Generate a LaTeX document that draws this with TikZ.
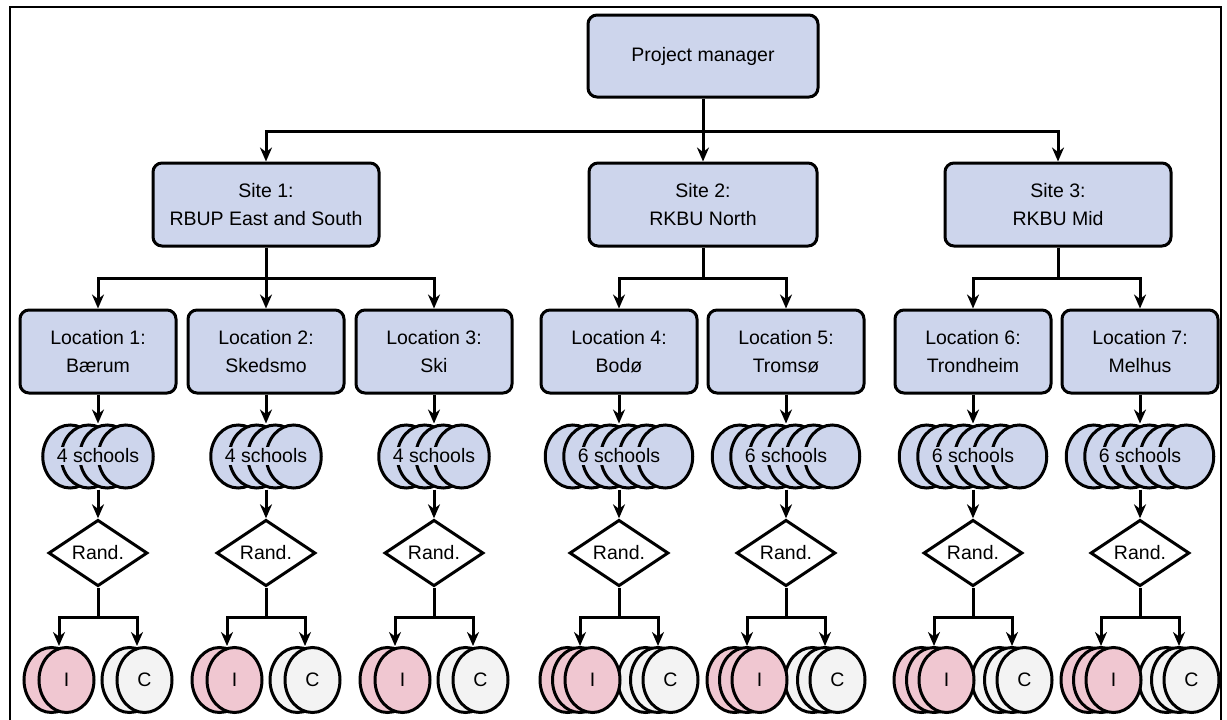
\documentclass[tikz,border=0pt]{standalone}
\usepackage{fontspec}
\setmainfont{Liberation Sans}
\usetikzlibrary{shapes.geometric,arrows.meta}

\begin{document}
\begin{tikzpicture}
		[x=1pt,y=-1pt,line width=3pt,>={Stealth[length=14pt,width=12pt]},
		font=\fontsize{19.5}{28}\selectfont,
		%Styles
		unit box/.style={draw,rounded corners=9pt,fill=boxblue,align=center,inner sep=0pt},
		school/.style={ellipse,draw,fill=boxblue,minimum width=55pt,minimum height=63pt,inner sep=0pt},
		school text/.style={fill=boxblue,inner sep=1.5pt},
		arm I/.style={ellipse,draw,fill=intpink,minimum width=55pt,minimum height=65pt,inner sep=0pt},
		arm C/.style={ellipse,draw,fill=ctrlgray,minimum width=55pt,minimum height=65pt,inner sep=0pt},
		rand box/.style={diamond,draw,fill=white,minimum width=99pt,minimum height=60pt,inner sep=0pt},
		hidden/.style={inner sep=0pt,minimum height=63pt}
		]
		
		%Colors
		\definecolor{boxblue}{RGB}{205,213,236}	%boxes and schools
		\definecolor{intpink}{RGB}{240,199,209}	%intervention arm
		\definecolor{ctrlgray}{RGB}{243,243,243}	%control arm
		
		\useasboundingbox (0,0) rectangle (1227,720);
		\draw[line width=1.5pt] (10,7) rectangle (1221,728);
		
		%The graphic
		\node[unit box,minimum width=230pt,minimum height=82pt] (pm) at (703,56) {Project manager};
		\node[unit box,minimum width=226pt,minimum height=83pt] (site1) at (266,204.5) {Site 1:\\RBUP East and South};
		\node[unit box,minimum width=228pt,minimum height=83pt] (site2) at (703,204.5) {Site 2:\\RKBU North};
		\node[unit box,minimum width=226pt,minimum height=83pt] (site3) at (1058,204.5) {Site 3:\\RKBU Mid};
		
		\coordinate (pmbus) at (703,131);
		\draw (pm) -- (pmbus);
		\draw[->] (pmbus) -| (site1);
		\draw[->] (pmbus) -- (site2);
		\draw[->] (pmbus) -| (site3);
		
		\coordinate (sb1) at (266,278);
		\coordinate (sb2) at (703,278);
		\coordinate (sb3) at (1058,278);
		\draw (site1) -- (sb1);
		\draw (site2) -- (sb2);
		\draw (site3) -- (sb3);
		
		\foreach \i/\cx/\place/\n/\st in {1/98/Bærum/4/1, 2/266/Skedsmo/4/1, 3/434/Ski/4/1,
				4/619/Bodø/6/2, 5/786/Tromsø/6/2, 6/973/Trondheim/6/3, 7/1140/Melhus/6/3}{
			\node[unit box,minimum width=156pt,minimum height=83pt] (loc\i) at (\cx,351.5) {Location \i:\\\place};
			\draw[->] (sb\st) -| (loc\i);
			
			%stack of schools
			\foreach \k in {1,...,\n}
				\node[school] (s\i-\k) at ({\cx+(\k-(\n+1)/2)*18.5},456.5) {};
			\node[hidden,minimum width={55+(\n-1)*18.5}] (sc\i) at (\cx,456.5) {};
			\node[school text] (st\i) at (\cx,456) {\n\ schools};
			\draw[->] (loc\i) -- (sc\i);
			
			\node[rand box] (rd\i) at (\cx,553) {Rand.};
			\draw[->] (sc\i) -- (rd\i);
			\coordinate (rb\i) at (\cx,617);
			\draw (rd\i) -- (rb\i);
			
			%arms
			\pgfmathsetmacro\arms{int(\n/2)}
			\pgfmathsetmacro\gap{\arms==2 ? 15 : 12.5}
			\foreach \j in {1,...,\arms}{
				\node[arm I] (i\i-\j) at ({\cx-39+(\j-(\arms+1)/2)*\gap},680) {\ifnum\j=\arms I\fi};
				\node[arm C] (c\i-\j) at ({\cx+39+(\j-(\arms+1)/2)*\gap},680) {\ifnum\j=\arms C\fi};
			}
			\node[hidden,minimum height=65pt,minimum width={55+(\arms-1)*\gap}] (ig\i) at (\cx-39,680) {};
			\node[hidden,minimum height=65pt,minimum width={55+(\arms-1)*\gap}] (cg\i) at (\cx+39,680) {};
			\draw[->] (rb\i) -| (ig\i);
			\draw[->] (rb\i) -| (cg\i);
		}
	\end{tikzpicture}
\end{document}
